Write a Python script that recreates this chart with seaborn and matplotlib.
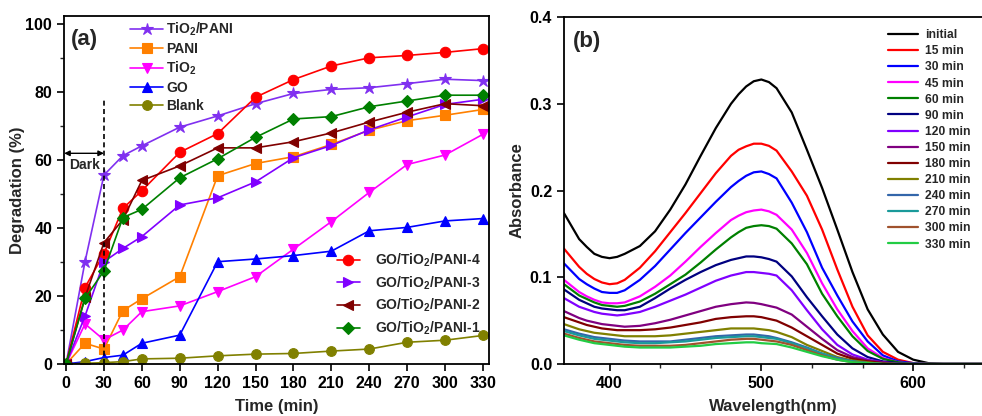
import numpy as np
import pandas as pd
import matplotlib
matplotlib.use("Agg")
import matplotlib.pyplot as plt
import seaborn as sns
from matplotlib.ticker import MultipleLocator, AutoMinorLocator

# ---------------- data: panel (a) ----------------
time_min = [0, 15, 30, 45, 60, 90, 120, 150, 180, 210, 240, 270, 300, 330]
tio2_pani = [0, 30.1, 55.6, 61.3, 64.2, 69.7, 73.0, 76.6, 79.6, 80.8, 81.3, 82.5, 83.8, 83.4]
pani = [0, 6.1, 4.4, 15.7, 19.2, 25.7, 55.4, 59.0, 61.0, 64.6, 68.8, 71.6, 73.2, 74.9]
tio2 = [0, 11.8, 7.1, 10.0, 15.4, 17.1, 21.3, 25.7, 33.8, 41.9, 50.5, 58.7, 61.5, 67.6]
go = [0, 0.7, 1.9, 2.6, 6.1, 8.5, 30.1, 30.9, 31.9, 33.2, 39.2, 40.2, 42.1, 42.8]
blank = [0, 0.2, 0.4, 0.7, 1.5, 1.7, 2.4, 2.9, 3.1, 3.8, 4.4, 6.4, 7.0, 8.4]
gtp4 = [0, 22.5, 32.5, 45.8, 51.0, 62.3, 67.8, 78.5, 83.7, 87.7, 90.1, 90.8, 91.7, 92.8]
gtp3 = [0, 14.1, 30.1, 34.0, 37.5, 46.8, 48.9, 53.6, 60.7, 64.3, 68.9, 72.7, 76.4, 77.9]
gtp2 = [0, 19.6, 35.7, 42.5, 54.0, 58.3, 63.6, 63.6, 65.4, 68.0, 71.2, 74.1, 76.6, 76.0]
gtp1 = [0, 19.3, 27.4, 43.1, 45.5, 54.8, 60.4, 66.7, 72.1, 72.8, 75.7, 77.4, 79.1, 79.1]

labels_a_top = ["TiO$_2$/PANI", "PANI", "TiO$_2$", "GO", "Blank"]
labels_a_bot = ["GO/TiO$_2$/PANI-4", "GO/TiO$_2$/PANI-3", "GO/TiO$_2$/PANI-2", "GO/TiO$_2$/PANI-1"]
time_ticks = [0, 30, 60, 90, 120, 150, 180, 210, 240, 270, 300, 330]

# ---------------- data: panel (b) ----------------
wavelength = [370, 380, 385, 390, 395, 400, 405, 410,
              420, 430, 440, 450, 460, 470, 480,
              485, 490, 495, 500, 505, 510,
              520, 530, 540, 550, 560, 570, 580, 590, 600, 610, 620, 650]
A_initial = [0.174, 0.144, 0.135, 0.127, 0.1235, 0.122, 0.1235, 0.127,
             0.136, 0.153, 0.178, 0.207, 0.240, 0.272, 0.300,
             0.311, 0.320, 0.326, 0.328, 0.325, 0.318,
             0.290, 0.247, 0.203, 0.155, 0.106, 0.063, 0.034, 0.014, 0.005, 0.001, 0.0, 0.0]
A_15 = [0.133, 0.112, 0.104, 0.098, 0.094, 0.092, 0.093, 0.097,
        0.111, 0.130, 0.152, 0.174, 0.197, 0.220, 0.240,
        0.247, 0.251, 0.254, 0.254, 0.2515, 0.246,
        0.222, 0.194, 0.155, 0.109, 0.066, 0.033, 0.014, 0.005, 0.001, 0.0, 0.0, 0.0]
A_30 = [0.116, 0.098, 0.092, 0.087, 0.083, 0.082, 0.082, 0.085,
        0.097, 0.113, 0.132, 0.151, 0.169, 0.187, 0.204,
        0.211, 0.217, 0.221, 0.222, 0.219, 0.214,
        0.186, 0.152, 0.111, 0.079, 0.049, 0.026, 0.010, 0.003, 0.001, 0.0, 0.0, 0.0]
A_45 = [0.097, 0.083, 0.078, 0.074, 0.071, 0.070, 0.070, 0.071,
        0.078, 0.089, 0.102, 0.118, 0.135, 0.151, 0.166,
        0.171, 0.175, 0.177, 0.178, 0.176, 0.172,
        0.155, 0.128, 0.093, 0.063, 0.038, 0.018, 0.007, 0.002, 0.0, 0.0, 0.0, 0.0]
A_60 = [0.092, 0.079, 0.075, 0.071, 0.068, 0.067, 0.066, 0.067,
        0.072, 0.081, 0.092, 0.103, 0.117, 0.132, 0.146,
        0.152, 0.157, 0.159, 0.160, 0.159, 0.156,
        0.139, 0.115, 0.081, 0.055, 0.032, 0.015, 0.006, 0.002, 0.0, 0.0, 0.0, 0.0]
A_90 = [0.086, 0.074, 0.070, 0.066, 0.064, 0.063, 0.062, 0.062,
        0.066, 0.076, 0.087, 0.097, 0.106, 0.114, 0.120,
        0.122, 0.124, 0.124, 0.123, 0.121, 0.118,
        0.101, 0.077, 0.055, 0.034, 0.018, 0.008, 0.003, 0.001, 0.0, 0.0, 0.0, 0.0]
A_120 = [0.076, 0.066, 0.063, 0.060, 0.058, 0.057, 0.056, 0.057,
         0.060, 0.066, 0.073, 0.080, 0.088, 0.096, 0.102,
         0.104, 0.106, 0.106, 0.105, 0.104, 0.102,
         0.085, 0.062, 0.040, 0.022, 0.011, 0.005, 0.002, 0.0, 0.0, 0.0, 0.0, 0.0]
A_150 = [0.061, 0.053, 0.050, 0.048, 0.046, 0.045, 0.044, 0.043,
         0.044, 0.047, 0.051, 0.056, 0.061, 0.066, 0.069,
         0.070, 0.071, 0.0705, 0.069, 0.067, 0.065,
         0.057, 0.043, 0.029, 0.016, 0.008, 0.004, 0.002, 0.0, 0.0, 0.0, 0.0, 0.0]
A_180 = [0.054, 0.048, 0.045, 0.043, 0.041, 0.040, 0.039, 0.039,
         0.039, 0.040, 0.042, 0.045, 0.048, 0.052, 0.054,
         0.0545, 0.055, 0.055, 0.054, 0.052, 0.050,
         0.042, 0.032, 0.022, 0.012, 0.006, 0.003, 0.001, 0.0, 0.0, 0.0, 0.0, 0.0]
A_210 = [0.046, 0.040, 0.038, 0.036, 0.035, 0.034, 0.033, 0.032,
         0.032, 0.032, 0.033, 0.035, 0.037, 0.039, 0.041,
         0.041, 0.041, 0.041, 0.040, 0.039, 0.037,
         0.031, 0.022, 0.015, 0.008, 0.004, 0.002, 0.0, 0.0, 0.0, 0.0, 0.0, 0.0]
A_240 = [0.040, 0.035, 0.033, 0.031, 0.030, 0.029, 0.028, 0.027,
         0.026, 0.026, 0.026, 0.028, 0.030, 0.032, 0.033,
         0.0335, 0.034, 0.034, 0.033, 0.032, 0.030,
         0.025, 0.019, 0.012, 0.007, 0.003, 0.001, 0.0, 0.0, 0.0, 0.0, 0.0, 0.0]
A_270 = [0.038, 0.033, 0.031, 0.029, 0.028, 0.027, 0.026, 0.025,
         0.024, 0.024, 0.025, 0.026, 0.028, 0.030, 0.031,
         0.0315, 0.032, 0.032, 0.031, 0.030, 0.029,
         0.024, 0.018, 0.012, 0.006, 0.003, 0.001, 0.0, 0.0, 0.0, 0.0, 0.0, 0.0]
A_300 = [0.035, 0.030, 0.028, 0.026, 0.025, 0.024, 0.023, 0.022,
         0.021, 0.021, 0.021, 0.022, 0.024, 0.026, 0.028,
         0.0285, 0.029, 0.029, 0.028, 0.027, 0.026,
         0.022, 0.016, 0.010, 0.005, 0.002, 0.001, 0.0, 0.0, 0.0, 0.0, 0.0, 0.0]
A_330 = [0.033, 0.028, 0.026, 0.024, 0.023, 0.022, 0.021, 0.020,
         0.019, 0.019, 0.019, 0.020, 0.021, 0.023, 0.024,
         0.0245, 0.025, 0.025, 0.024, 0.0235, 0.023,
         0.019, 0.014, 0.009, 0.005, 0.002, 0.001, 0.0, 0.0, 0.0, 0.0, 0.0, 0.0]
spectra_labels = ["initial", "15 min", "30 min", "45 min", "60 min", "90 min", "120 min", "150 min",
                  "180 min", "210 min", "240 min", "270 min", "300 min", "330 min"]
spectra = [A_initial, A_15, A_30, A_45, A_60, A_90, A_120, A_150, A_180, A_210, A_240, A_270, A_300, A_330]
wl_ticks = [400, 500, 600]
abs_ticks = [0.0, 0.1, 0.2, 0.3, 0.4]

# ---------------- styling ----------------
sns.set_theme(style="ticks")
plt.rcParams["font.family"] = ["Liberation Sans", "DejaVu Sans"]
plt.rcParams["font.weight"] = "bold"
plt.rcParams["axes.labelweight"] = "bold"
plt.rcParams["mathtext.fontset"] = "custom"
plt.rcParams["mathtext.rm"] = "Liberation Sans:bold"
plt.rcParams["mathtext.bf"] = "Liberation Sans:bold"
plt.rcParams["mathtext.it"] = "Liberation Sans:bold"
plt.rcParams["mathtext.default"] = "rm"

fig = plt.figure(figsize=(9.82, 4.16), dpi=100)
ax1 = fig.add_axes([0.0652, 0.125, 0.4328, 0.8365])
ax2 = fig.add_axes([0.5743, 0.125, 0.4257, 0.834])

series_a = [
    (tio2_pani, labels_a_top[0], "#8030F0", "*", 9),
    (pani, labels_a_top[1], "#FF8000", "s", 6.5),
    (tio2, labels_a_top[2], "#FF00FF", "v", 7.5),
    (go, labels_a_top[3], "#0000FF", "^", 7.5),
    (blank, labels_a_top[4], "#808000", "o", 7),
    (gtp4, labels_a_bot[0], "#FF0000", "o", 7.5),
    (gtp3, labels_a_bot[1], "#8000FF", ">", 7.5),
    (gtp2, labels_a_bot[2], "#800000", "<", 7.5),
    (gtp1, labels_a_bot[3], "#008000", "D", 6),
]
for vals, lab, col, mk, ms in series_a:
    sns.lineplot(x=time_min, y=vals, ax=ax1, color=col, marker=mk, markersize=ms,
                 markeredgecolor=col, markeredgewidth=0.8, linewidth=1.2, label=lab)

handles, labs = ax1.get_legend_handles_labels()
if ax1.get_legend() is not None:
    ax1.get_legend().remove()
hmap = dict(zip(labs, handles))

# Dark annotation
ax1.plot([30, 30], [0, 78], color="black", lw=1.2, ls=(0, (3, 2)))
ax1.annotate("", xy=(-1.5, 62), xytext=(30, 62),
             arrowprops=dict(arrowstyle="<|-|>", color="black", lw=1.0, mutation_scale=8,
                             shrinkA=0, shrinkB=0))
ax1.text(15, 58.6, "Dark", ha="center", va="center", fontsize=10, fontweight="bold")
ax1.text(3.5, 95.5, "(a)", ha="left", va="center", fontsize=16, fontweight="bold")

ax1.set_xlim(-1.6, 334.8)
ax1.set_ylim(0, 102.4)
ax1.set_xticks(time_ticks)
ax1.yaxis.set_major_locator(MultipleLocator(20))
ax1.yaxis.set_minor_locator(MultipleLocator(10))
ax1.set_xlabel("Time (min)", fontsize=12, fontweight="bold", labelpad=6)
ax1.set_ylabel("Degradation (%)", fontsize=12, fontweight="bold", labelpad=0)

leg1 = ax1.legend([hmap[l] for l in labels_a_top], labels_a_top, loc="upper left",
                  bbox_to_anchor=(0.149, 0.994), frameon=False, fontsize=10,
                  handlelength=2.4, handletextpad=0.2, labelspacing=0.27,
                  borderpad=0.2, borderaxespad=0)
ax1.add_artist(leg1)
ax1.legend([hmap[l] for l in labels_a_bot], labels_a_bot, loc="lower right",
           bbox_to_anchor=(0.988, 0.07), frameon=False, fontsize=10,
           handlelength=1.7, handletextpad=1.1, labelspacing=0.38,
           borderpad=0.2, borderaxespad=0)

# ---------------- panel (b) ----------------
spec_colors = ["#000000", "#FF0000", "#0000FF", "#FF00FF", "#008000", "#000080", "#8000FF",
               "#800080", "#800000", "#808000", "#3366AA", "#1A9A9A", "#A0522D", "#22CC44"]
dfb = pd.DataFrame({
    "wl": np.tile(wavelength, len(spectra)),
    "A": np.concatenate([np.asarray(s, dtype=float) for s in spectra]),
    "time": np.repeat(spectra_labels, len(wavelength)),
})
sns.lineplot(data=dfb, x="wl", y="A", hue="time", hue_order=spectra_labels,
             palette=dict(zip(spectra_labels, spec_colors)), linewidth=1.6, ax=ax2,
             legend=True, sort=False, estimator=None)
for ln in ax2.get_lines():
    ln.set_solid_joinstyle("round")
h2, l2 = ax2.get_legend_handles_labels()
ax2.get_legend().remove()
ax2.legend(h2, l2, loc="upper left", bbox_to_anchor=(0.769, 0.972), frameon=False,
           fontsize=8.7, handlelength=2.5, handletextpad=0.55, labelspacing=0.34,
           borderpad=0.2, borderaxespad=0)
ax2.text(0.022, 0.93, "(b)", transform=ax2.transAxes, ha="left", va="center",
         fontsize=16, fontweight="bold")
ax2.set_xlim(370, 645.3)
ax2.set_ylim(0, 0.4)
ax2.set_xticks(wl_ticks)
ax2.xaxis.set_minor_locator(AutoMinorLocator(3))
ax2.set_yticks(abs_ticks)
ax2.set_xlabel("Wavelength(nm)", fontsize=12, fontweight="bold", labelpad=6)
ax2.set_ylabel("Absorbance", fontsize=12, fontweight="bold", labelpad=4)
ax2.spines["right"].set_visible(False)

for ax in (ax1, ax2):
    for sp in ax.spines.values():
        sp.set_linewidth(1.3)
        sp.set_color("black")
    ax.tick_params(axis="both", which="major", direction="out", length=5, width=1.2,
                   labelsize=11.5, colors="black")
    ax.tick_params(axis="both", which="minor", direction="out", length=3, width=1.0)
    for lab in ax.get_xticklabels() + ax.get_yticklabels():
        lab.set_fontweight("bold")

fig.savefig("out.png", dpi=100)
